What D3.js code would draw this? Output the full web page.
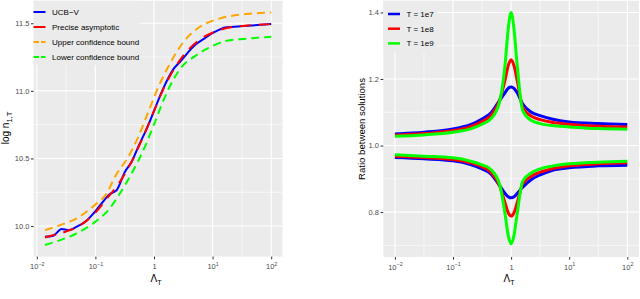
<!DOCTYPE html>
<html>
<head>
<meta charset="utf-8">
<title>UCB-V asymptotics, two panels</title>
<script src="https://cdn.jsdelivr.net/npm/d3@7"></script>
<style>
body { margin: 0; background: #fff; }
svg { display: block; font-family: "Liberation Sans", Arial, sans-serif; }
.tick text { fill: #4d4d4d; font-size: 7.5px; }
.tick line { stroke: #333; }
.legend text { font-size: 8px; fill: #000; }
</style>
</head>
<body>
<svg id="chart" width="640" height="299"></svg>
<script>

// ---- panel (a): log n_{1,T} against Lambda_T ----
var ucbLambda  = [0.0138, 0.0191, 0.0266, 0.0347, 0.0479, 0.0708, 0.1, 0.129, 0.177, 0.231, 0.320, 0.416,
                  0.540, 0.800, 1.04, 1.44, 2.19, 2.78, 5.01, 7.41, 10.3, 17.4, 33.5, 100];
var ucbValues  = [9.920, 9.928, 9.978, 9.970, 9.995, 10.040, 10.110, 10.170, 10.237, 10.266, 10.402, 10.476,
                  10.587, 10.747, 10.870, 11.018, 11.166, 11.215, 11.339, 11.390, 11.430, 11.470, 11.479, 11.494];

var preciseLambda = [0.0138, 0.0200, 0.0316, 0.0501, 0.0708, 0.1, 0.158, 0.251, 0.398, 0.631, 1, 1.585,
                     2.51, 3.98, 6.31, 10, 20, 39.8, 100];
var preciseValues = [9.915, 9.935, 9.960, 9.995, 10.040, 10.100, 10.205, 10.315, 10.462, 10.645, 10.850, 11.050,
                     11.200, 11.310, 11.385, 11.430, 11.470, 11.483, 11.494];

var upperLambda = [0.0138, 0.0251, 0.0479, 0.1, 0.155, 0.216, 0.365, 0.540, 0.800, 1.19, 1.75, 3.38,
                   6.10, 13.4, 38.0, 100];
var upperValues = [9.970, 10.007, 10.057, 10.160, 10.240, 10.365, 10.513, 10.660, 10.845, 11.030, 11.178, 11.375,
                   11.474, 11.536, 11.568, 11.580];

var lowerLambda = [0.0138, 0.0251, 0.0479, 0.092, 0.166, 0.263, 0.416, 0.701, 1.04, 1.54, 2.28, 3.16,
                   4.40, 7.94, 17.4, 43.6, 100];
var lowerValues = [9.860, 9.896, 9.946, 10.020, 10.118, 10.242, 10.390, 10.587, 10.771, 10.956, 11.104, 11.190,
                   11.240, 11.310, 11.370, 11.388, 11.400];

var legendA = ['UCB\u2212V', 'Precise asymptotic', 'Upper confidence bound', 'Lower confidence bound'];

// ---- panel (b): ratio between solutions ----
var ratioLambda = [0.01, 0.0316, 0.1, 0.2, 0.316, 0.447, 0.631, 0.794, 0.891, 1, 1.122, 1.259, 1.585,
                   2.239, 3.162, 5.012, 10, 31.62, 100];
var upper1e7 = [1.035, 1.040, 1.050, 1.063, 1.080, 1.098, 1.135, 1.160, 1.172, 1.176, 1.172, 1.160, 1.125,
                1.100, 1.090, 1.080, 1.071, 1.066, 1.063];
var upper1e8 = [1.031, 1.036, 1.045, 1.057, 1.072, 1.090, 1.135, 1.200, 1.240, 1.258, 1.240, 1.200, 1.115,
                1.088, 1.078, 1.070, 1.064, 1.058, 1.056];
var upper1e9 = [1.028, 1.032, 1.040, 1.050, 1.064, 1.080, 1.130, 1.250, 1.350, 1.400, 1.350, 1.250, 1.105,
                1.075, 1.066, 1.060, 1.056, 1.051, 1.049];
var lower1e7 = [0.964, 0.960, 0.954, 0.943, 0.930, 0.915, 0.880, 0.855, 0.846, 0.843, 0.846, 0.855, 0.875,
                0.898, 0.912, 0.925, 0.933, 0.939, 0.941];
var lower1e8 = [0.968, 0.964, 0.958, 0.948, 0.936, 0.920, 0.880, 0.825, 0.798, 0.788, 0.798, 0.825, 0.885,
                0.908, 0.920, 0.930, 0.939, 0.945, 0.948];
var lower1e9 = [0.972, 0.968, 0.963, 0.953, 0.942, 0.928, 0.885, 0.790, 0.730, 0.705, 0.730, 0.790, 0.893,
                0.918, 0.930, 0.938, 0.945, 0.950, 0.953];

var legendB = ['T = 1e7', 'T = 1e8', 'T = 1e9'];

var xMajor = [0.01, 0.1, 1, 10, 100];
var xMinor = [0.0316, 0.316, 3.162, 31.62];
var yMajorA = [10.0, 10.5, 11.0, 11.5];
var yMinorA = [10.25, 10.75, 11.25];
var yMajorB = [0.8, 1.0, 1.2, 1.4];
var yMinorB = [0.7, 0.9, 1.1, 1.3];

var svg = d3.select('#chart');

function zip(xs, ys) {
  return xs.map(function(x, i) { return [x, ys[i]]; });
}

function panel(opt) {
  var x = d3.scaleLog().domain(opt.xDomain).range(opt.xRange);
  var y = d3.scaleLinear().domain(opt.yDomain).range(opt.yRange);
  var g = svg.append('g');

  g.append('rect')
    .attr('x', opt.xRange[0]).attr('y', opt.yRange[1])
    .attr('width', opt.xRange[1] - opt.xRange[0])
    .attr('height', opt.yRange[0] - opt.yRange[1])
    .attr('fill', '#ebebeb');

  // grid
  g.selectAll('.vminor').data(xMinor).enter().append('line')
    .attr('x1', x).attr('x2', x).attr('y1', opt.yRange[1]).attr('y2', opt.yRange[0])
    .attr('stroke', '#fff').attr('stroke-width', 0.6);
  g.selectAll('.hminor').data(opt.yMinor).enter().append('line')
    .attr('y1', y).attr('y2', y).attr('x1', opt.xRange[0]).attr('x2', opt.xRange[1])
    .attr('stroke', '#fff').attr('stroke-width', 0.6);
  g.selectAll('.vmajor').data(xMajor).enter().append('line')
    .attr('x1', x).attr('x2', x).attr('y1', opt.yRange[1]).attr('y2', opt.yRange[0])
    .attr('stroke', '#fff').attr('stroke-width', 1.1);
  g.selectAll('.hmajor').data(opt.yMajor).enter().append('line')
    .attr('y1', y).attr('y2', y).attr('x1', opt.xRange[0]).attr('x2', opt.xRange[1])
    .attr('stroke', '#fff').attr('stroke-width', 1.1);

  // x axis with 10^k labels
  var xa = g.append('g').attr('transform', 'translate(0,' + opt.yRange[0] + ')')
    .call(d3.axisBottom(x).tickValues(xMajor).tickSize(2.7).tickFormat(''));
  xa.select('.domain').remove();
  xa.selectAll('.tick').append('text')
    .attr('y', 12.6).attr('text-anchor', 'middle')
    .each(function(d) {
      var t = d3.select(this);
      var e = Math.round(Math.log10(d));
      if (e === 0) { t.append('tspan').text('1'); return; }
      t.append('tspan').text('10');
      t.append('tspan').attr('dy', -3.3).style('font-size', '5.4px')
        .text(e < 0 ? '\u2212' + (-e) : String(e));
    });

  var ya = g.append('g').attr('transform', 'translate(' + opt.xRange[0] + ',0)')
    .call(d3.axisLeft(y).tickValues(opt.yMajor).tickSize(2.7).tickPadding(1.6).tickFormat(d3.format('.1f')));
  ya.select('.domain').remove();

  var line = d3.line().x(function(d) { return x(d[0]); }).y(function(d) { return y(d[1]); })
    .curve(d3.curveMonotoneX);

  opt.series.forEach(function(s) {
    g.append('path').datum(s.data)
      .attr('d', line).attr('fill', 'none')
      .attr('stroke', s.color).attr('stroke-width', s.width)
      .attr('stroke-dasharray', s.dash || null)
      .attr('stroke-linejoin', 'round');
  });

  // legend (opaque box on the panel)
  var lg = g.append('g').attr('class', 'legend');
  lg.append('rect')
    .attr('x', opt.xRange[0]).attr('y', opt.yRange[1])
    .attr('width', opt.legend.w).attr('height', opt.legend.h)
    .attr('fill', '#ebebeb');
  opt.legend.items.forEach(function(it, i) {
    var ly = opt.legend.y0 + i * opt.legend.step;
    lg.append('line')
      .attr('x1', opt.legend.kx).attr('x2', opt.legend.kx + 12)
      .attr('y1', ly).attr('y2', ly)
      .attr('stroke', it.color).attr('stroke-width', it.width)
      .attr('stroke-dasharray', it.keyDash || null);
    lg.append('text').attr('x', opt.legend.kx + 18.5).attr('y', ly).attr('dy', '0.35em').text(it.label);
  });

  // x title
  var xt = g.append('text')
    .attr('x', (opt.xRange[0] + opt.xRange[1]) / 2 - 2).attr('y', 282)
    .attr('text-anchor', 'middle').style('font-size', '10px');
  xt.append('tspan').text('\u039B');
  xt.append('tspan').attr('dy', 2.6).style('font-size', '7px').text('T');

  return g;
}

// panel (a)
panel({
  xDomain: [Math.pow(10, -2.053), Math.pow(10, 2.193)], xRange: [33.7, 282.5],
  yDomain: [9.774, 11.666], yRange: [256.6, 0.8],
  yMajor: yMajorA, yMinor: yMinorA,
  series: [
    { data: zip(ucbLambda, ucbValues), color: '#0000ff', width: 2 },
    { data: zip(preciseLambda, preciseValues), color: '#ff0000', width: 2, dash: '11,8' },
    { data: zip(upperLambda, upperValues), color: '#ffa500', width: 2, dash: '8,5' },
    { data: zip(lowerLambda, lowerValues), color: '#00ff00', width: 2, dash: '8,5' }
  ],
  legend: {
    w: 106, h: 64, kx: 33.5, y0: 12, step: 15,
    items: [
      { label: legendA[0], color: '#0000ff', width: 2 },
      { label: legendA[1], color: '#ff0000', width: 2 },
      { label: legendA[2], color: '#ffa500', width: 2, keyDash: '5.5,2' },
      { label: legendA[3], color: '#00ff00', width: 2, keyDash: '5.5,2' }
    ]
  }
});

// panel (b)
panel({
  xDomain: [Math.pow(10, -2.2), Math.pow(10, 2.2)], xRange: [383.3, 638.9],
  yDomain: [0.665, 1.435], yRange: [257, 0.8],
  yMajor: yMajorB, yMinor: yMinorB,
  series: [
    { data: zip(ratioLambda, upper1e7), color: '#0000ff', width: 3 },
    { data: zip(ratioLambda, lower1e7), color: '#0000ff', width: 3 },
    { data: zip(ratioLambda, upper1e8), color: '#ff0000', width: 3 },
    { data: zip(ratioLambda, lower1e8), color: '#ff0000', width: 3 },
    { data: zip(ratioLambda, upper1e9), color: '#00ff00', width: 3 },
    { data: zip(ratioLambda, lower1e9), color: '#00ff00', width: 3 }
  ],
  legend: {
    w: 54, h: 51, kx: 388, y0: 14, step: 14.7,
    items: [
      { label: legendB[0], color: '#0000ff', width: 2.5 },
      { label: legendB[1], color: '#ff0000', width: 2.5 },
      { label: legendB[2], color: '#00ff00', width: 2.5 }
    ]
  }
});

// y titles
var ytA = svg.append('text').attr('transform', 'translate(9,128) rotate(-90)')
  .attr('text-anchor', 'middle').style('font-size', '10px');
ytA.append('tspan').text('log n');
ytA.append('tspan').attr('dy', 2.8).style('font-size', '7.5px').text('1,T');

svg.append('text').attr('transform', 'translate(365,129) rotate(-90)')
  .attr('text-anchor', 'middle').style('font-size', '9.6px').text('Ratio between solutions');

// sub-captions, cut by the bottom edge as in the source figure
svg.append('text').attr('x', 48).attr('y', 308)
  .style('font-family', '"Liberation Serif", serif').style('font-size', '12px')
  .text('(a)  Confidence intervals for n1,T');
svg.append('text').attr('x', 388).attr('y', 308)
  .style('font-family', '"Liberation Serif", serif').style('font-size', '12px')
  .text('(b)  Ratio between the two solutions');

</script>
</body>
</html>
